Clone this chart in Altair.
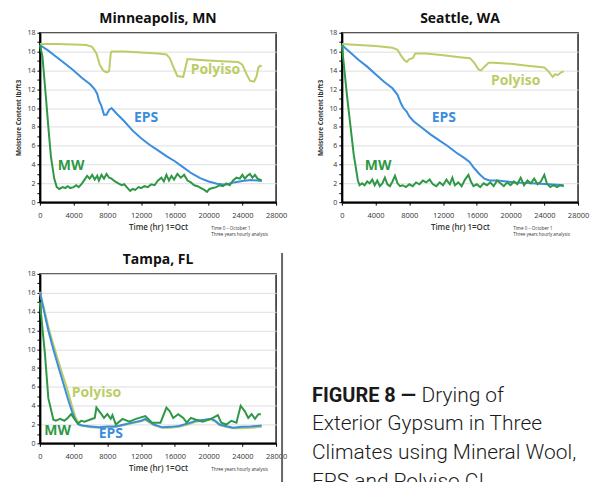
import altair as alt
import pandas as pd

# ---------------- data ----------------
# Minneapolis, MN
min_poly_t = [0, 2000, 4000, 5500, 6200, 6700, 7100, 7500, 7900, 8200, 8400, 8500, 10000, 12000, 14000, 15000, 15400, 15900, 16300, 17000, 17300, 17500, 19000, 21000, 23500, 24000, 24500, 24900, 25400, 25700, 25900, 26100, 26300]
min_poly_v = [16.8, 16.8, 16.75, 16.7, 16.5, 15.8, 14.6, 14.0, 13.8, 13.9, 15.8, 16.0, 16.0, 15.9, 15.8, 15.7, 15.3, 14.2, 13.4, 13.3, 14.5, 15.2, 15.1, 15.0, 14.9, 14.6, 13.6, 12.9, 12.8, 13.4, 14.3, 14.5, 14.4]
min_eps_t = [0, 1000, 2000, 3000, 4000, 5000, 6000, 6500, 6800, 7000, 7300, 7600, 7900, 8200, 8500, 9000, 10000, 11000, 12000, 13000, 14000, 15000, 16000, 17000, 18000, 19000, 20000, 21000, 22000, 23000, 24000, 25000, 25800, 26300]
min_eps_v = [16.7, 16.1, 15.4, 14.7, 14.0, 13.2, 12.5, 12.0, 11.5, 10.8, 10.2, 9.3, 9.3, 9.8, 10.0, 9.5, 8.6, 7.6, 6.8, 6.1, 5.5, 4.9, 4.35, 3.7, 3.05, 2.55, 2.2, 1.95, 1.85, 2.1, 2.25, 2.35, 2.3, 2.25]
min_mw_t = [0, 300, 700, 1000, 1300, 1700, 2000, 2300, 2700, 3000, 3300, 3600, 4000, 4300, 4600, 5000, 5300, 5600, 5900, 6200, 6500, 6800, 7000, 7300, 7600, 7900, 8200, 8500, 8900, 9300, 9700, 10000, 10400, 10700, 11000, 11300, 11700, 12000, 12400, 12800, 13200, 13600, 14000, 14400, 14700, 15000, 15300, 15600, 15900, 16300, 16700, 17100, 17500, 17900, 18300, 18700, 19100, 19500, 19800, 20100, 20500, 20900, 21300, 21700, 22100, 22500, 22900, 23300, 23700, 24000, 24300, 24600, 24900, 25200, 25500, 25800, 26100, 26300]
min_mw_v = [16.7, 15.5, 11.3, 8.0, 4.9, 2.5, 1.6, 1.4, 1.6, 1.5, 1.7, 1.5, 1.6, 1.8, 1.6, 2.0, 2.4, 2.8, 2.5, 2.9, 2.4, 2.8, 2.3, 2.9, 2.5, 3.0, 2.6, 2.5, 2.2, 2.0, 1.8, 1.9, 1.5, 1.2, 1.4, 1.3, 1.6, 1.5, 1.7, 1.6, 1.9, 1.8, 2.3, 2.6, 2.2, 2.9, 2.3, 2.8, 2.4, 3.0, 2.6, 2.9, 2.3, 2.1, 1.8, 1.7, 1.5, 1.3, 1.1, 1.4, 1.5, 1.6, 1.8, 1.7, 2.0, 1.8, 2.3, 2.6, 2.5, 2.9, 2.5, 2.8, 3.0, 2.6, 2.9, 2.5, 2.4, 2.3]

# Seattle, WA
sea_poly_t = [0, 2000, 4000, 6000, 6600, 7000, 7400, 7700, 8000, 8400, 8700, 10000, 12000, 14000, 15200, 15700, 16200, 16500, 16900, 17400, 18000, 20000, 22000, 24000, 24500, 25000, 25300, 25600, 26000, 26300]
sea_poly_v = [16.8, 16.7, 16.6, 16.4, 16.2, 15.6, 15.1, 14.9, 15.2, 15.3, 15.8, 15.8, 15.6, 15.4, 15.3, 14.8, 14.1, 14.0, 14.4, 14.8, 14.8, 14.7, 14.5, 14.3, 13.9, 13.3, 13.6, 13.5, 13.8, 13.9]
sea_eps_t = [0, 1000, 2000, 3000, 4000, 5000, 6000, 6600, 7000, 7300, 7700, 8000, 8500, 9500, 10500, 11500, 12500, 13500, 14500, 15100, 15700, 16300, 16900, 17500, 18500, 19500, 20500, 21500, 22500, 23500, 24500, 25500, 26300]
sea_eps_v = [16.7, 15.9, 15.1, 14.4, 13.6, 12.8, 12.1, 11.4, 10.5, 10.0, 9.6, 9.1, 8.6, 7.9, 7.2, 6.6, 6.0, 5.3, 4.7, 4.3, 3.6, 3.0, 2.5, 2.3, 2.3, 2.2, 2.1, 2.05, 2.0, 1.95, 1.9, 1.85, 1.8]
sea_mw_t = [0, 600, 1400, 1900, 2100, 2400, 2700, 3000, 3300, 3600, 3900, 4200, 4500, 4800, 5100, 5400, 5700, 6000, 6300, 6600, 6900, 7200, 7600, 8000, 8400, 8800, 9200, 9600, 10000, 10400, 10800, 11200, 11600, 12000, 12400, 12800, 13100, 13400, 13800, 14200, 14600, 15000, 15300, 15600, 16000, 16400, 16800, 17200, 17600, 18000, 18400, 18800, 19200, 19600, 20000, 20400, 20800, 21200, 21600, 22000, 22400, 22800, 23200, 23600, 24000, 24300, 24700, 25100, 25500, 25900, 26300]
sea_mw_v = [16.7, 11.4, 5.1, 2.3, 1.8, 2.0, 1.8, 2.2, 2.0, 2.4, 1.8, 2.3, 1.7, 2.0, 2.6, 1.9, 1.7, 2.2, 2.8, 2.0, 1.7, 1.8, 1.6, 1.9, 1.7, 2.1, 1.9, 2.3, 2.1, 2.4, 1.9, 1.7, 2.1, 1.8, 2.4, 1.9, 2.6, 1.8, 2.1, 1.7, 2.4, 2.9, 2.2, 1.7, 1.9, 1.6, 2.0, 1.8, 2.1, 1.7, 2.3, 2.0, 1.7, 2.1, 1.8, 2.2, 1.9, 2.6, 1.8, 2.3, 2.0, 2.5, 1.9, 2.2, 2.9, 2.0, 1.6, 1.8, 1.6, 1.8, 1.7]

# Tampa, FL
tam_poly_t = [0, 500, 1000, 1500, 2200, 2800, 3300, 3800, 4200, 4600, 5000, 6000, 7000, 8000, 9000, 10000, 11000, 12000, 12500, 13000, 13500, 14500, 15500, 16500, 17500, 18500, 19500, 20300, 20800, 21300, 22000, 22900, 24000, 25000, 25700, 26300]
tam_poly_v = [16.1, 14.3, 12.4, 10.8, 8.7, 7.0, 5.6, 4.0, 2.8, 2.1, 1.9, 1.7, 1.65, 1.7, 1.75, 1.95, 2.15, 2.35, 2.5, 2.2, 1.95, 1.65, 1.65, 1.75, 2.0, 2.3, 2.45, 2.55, 2.3, 1.95, 1.75, 1.6, 1.6, 1.65, 1.7, 1.75]
tam_eps_t = [0, 500, 1000, 1500, 2200, 2800, 3300, 3800, 4200, 4600, 5000, 6000, 7000, 8000, 9000, 10000, 11000, 12000, 12500, 13000, 13500, 14500, 15500, 16500, 17500, 18500, 19500, 20300, 20800, 21300, 22000, 22900, 24000, 25000, 25700, 26300]
tam_eps_v = [16.0, 14.0, 12.0, 10.3, 8.1, 6.3, 4.8, 3.4, 2.5, 2.0, 1.9, 1.8, 1.7, 1.8, 1.8, 2.0, 2.2, 2.4, 2.6, 2.3, 2.0, 1.7, 1.75, 1.85, 2.1, 2.4, 2.5, 2.6, 2.4, 2.0, 1.85, 1.65, 1.75, 1.8, 1.85, 1.9]
tam_mw_t = [0, 600, 1000, 1600, 1900, 2400, 2900, 3300, 3700, 4100, 4500, 4900, 5300, 5900, 6500, 6700, 7200, 7600, 8000, 8400, 8600, 9000, 9800, 10600, 11400, 12500, 13300, 14300, 15000, 15400, 15800, 16400, 17000, 17400, 17900, 18500, 19300, 20300, 21100, 21500, 22100, 22700, 23300, 23800, 24300, 24700, 25100, 25500, 25900, 26200]
tam_mw_v = [15.0, 9.5, 4.8, 2.5, 2.4, 2.6, 2.4, 2.7, 3.1, 2.6, 2.1, 2.4, 2.3, 2.5, 2.7, 3.8, 3.2, 2.7, 3.1, 2.6, 3.0, 2.0, 2.6, 2.3, 2.6, 2.9, 2.2, 2.2, 3.8, 3.4, 2.7, 3.1, 2.7, 2.2, 2.7, 2.5, 2.3, 2.6, 3.0, 2.2, 2.0, 2.4, 2.2, 4.0, 3.4, 2.7, 3.1, 2.6, 3.1, 3.1]

series_names = ["Polyiso", "EPS", "MW"]
series_colors = ["#bbcd66", "#3b8ede", "#2f9846"]

# in-plot series labels (data coordinates: hours, lb/ft3)
min_lab_t = [20800, 12600, 3700]
min_lab_v = [14.0, 8.9, 3.8]
sea_lab_t = [20600, 12100, 4300]
sea_lab_v = [12.9, 8.9, 3.8]
tam_lab_t = [6700, 8400, 2100]
tam_lab_v = [5.35, 1.0, 1.3]

x_ticks = [0, 4000, 8000, 12000, 16000, 20000, 24000, 28000]
y_ticks = list(range(0, 19))

caption_bold = "FIGURE 8 \u2014"
caption_first = "Drying of"
caption_lines = ["Exterior Gypsum in Three", "Climates using Mineral Wool,", "EPS and Polyiso CI"]

W, H = 237, 170
FONT = "Open Sans"

grid_cond = {"condition": {"test": "datum.value % 2 === 0 && datum.value > 0", "value": 1}, "value": 0}


def panel(title, pt, pv, et, ev, mt, mv, lab_t, lab_v, show_ytitle=True, notes=None):
    xaxis = alt.Axis(values=x_ticks, title="Time (hr) 1=Oct", format="d",
                     labelFontSize=7.5, titleFontSize=8, titleFontWeight=600,
                     labelColor="#333", titleColor="#333", titlePadding=5,
                     tickColor="#000", tickSize=3, labelPadding=6,
                     labelOverlap=False, labelFlush=False,
                     domainColor="#000", domainWidth=2, grid=False, labelFont=FONT, titleFont=FONT)
    yaxis = alt.Axis(values=y_ticks, labelExpr="datum.value % 2 === 0 ? datum.label : ''",
                     title="Moisture Content lb/ft3",
                     titleOpacity=1 if show_ytitle else 0,
                     labelFontSize=7, titleFontSize=6.5, titleFontWeight="bold",
                     labelColor="#333", titleColor="#333", titlePadding=5,
                     tickColor="#000", tickSize=3, labelPadding=2,
                     labelOverlap=False, labelFlush=False,
                     domainColor="#000", domainWidth=2,
                     grid=True, gridColor="#dedede", gridOpacity=grid_cond,
                     labelFont=FONT, titleFont=FONT)
    xs = alt.X("t:Q", scale=alt.Scale(domain=[0, 28000], nice=False), axis=xaxis)
    ys = alt.Y("v:Q", scale=alt.Scale(domain=[0, 18], nice=False), axis=yaxis)
    layers = []
    for name, col, tt, vv in zip(series_names, series_colors, [pt, et, mt], [pv, ev, mv]):
        df = pd.DataFrame({"t": tt, "v": vv})
        layers.append(alt.Chart(df).mark_line(color=col, strokeWidth=2).encode(x=xs, y=ys))
    lab = pd.DataFrame({"t": lab_t, "v": lab_v, "name": series_names})
    labels = alt.Chart(lab).mark_text(fontSize=14, fontWeight="bold", font=FONT, align="center", baseline="middle").encode(
        x=xs, y=ys, text="name:N",
        color=alt.Color("name:N", scale=alt.Scale(domain=series_names, range=series_colors), legend=None))
    layers.append(labels)
    if notes:
        for i, line in enumerate(notes):
            layers.append(alt.Chart(pd.DataFrame({"s": [line]})).mark_text(
                fontSize=4.5, font=FONT, align="left", baseline="middle", color="#333").encode(
                x=alt.value(172), y=alt.value(197 + 6 * i), text="s:N"))
    return alt.layer(*layers).properties(
        width=W, height=H,
        title=alt.TitleParams(title, fontSize=14, font=FONT, fontWeight="bold", color="#111", offset=3))


minn = panel("Minneapolis, MN", min_poly_t, min_poly_v, min_eps_t, min_eps_v, min_mw_t, min_mw_v,
             min_lab_t, min_lab_v, notes=["Time 0 \u2013 October 1", "Three years hourly analysis"])
sea = panel("Seattle, WA", sea_poly_t, sea_poly_v, sea_eps_t, sea_eps_v, sea_mw_t, sea_mw_v,
            sea_lab_t, sea_lab_v, notes=["Time 0 \u2013 October 1", "Three years hourly analysis"])
tam = panel("Tampa, FL", tam_poly_t, tam_poly_v, tam_eps_t, tam_eps_v, tam_mw_t, tam_mw_v,
            tam_lab_t, tam_lab_v, show_ytitle=False, notes=["Three years hourly analysis"])

# caption block (sits in the 4th grid cell; offsets are relative to that cell)
CF = "Roboto"
CS = 21
cap_layers = [
    alt.Chart(pd.DataFrame({"a": [0]})).mark_rule(color="#666", strokeWidth=2).encode(
        x=alt.value(-60), y=alt.value(-21), y2=alt.value(215)),
    alt.Chart(pd.DataFrame({"s": [caption_bold]})).mark_text(
        font=CF, fontSize=20, fontWeight="bold", align="left", baseline="alphabetic", color="#1a1a1a").encode(
        x=alt.value(-30), y=alt.value(129), text="s:N"),
    alt.Chart(pd.DataFrame({"s": [caption_first]})).mark_text(
        font=CF, fontSize=CS, fontWeight=300, align="left", baseline="alphabetic", color="#1a1a1a").encode(
        x=alt.value(80), y=alt.value(129), text="s:N"),
]
for i, line in enumerate(caption_lines):
    cap_layers.append(alt.Chart(pd.DataFrame({"s": [line]})).mark_text(
        font=CF, fontSize=CS, fontWeight=300, align="left", baseline="alphabetic", color="#1a1a1a").encode(
        x=alt.value(-30), y=alt.value(157 + 29 * i), text="s:N"))
caption = alt.layer(*cap_layers).properties(
    width=W, height=H, view=alt.ViewBackground(stroke="transparent"))

chart = alt.concat(minn, sea, tam, caption, columns=2,
                   spacing={"row": 72, "column": 66}, bounds="flush").properties(
    padding={"left": 7, "top": 2, "right": 0, "bottom": 0}
).configure_view(stroke="#222", strokeWidth=1.5).configure_axis(labelOverlap=False)

chart.save("out.html", embed_options={"renderer": "svg", "actions": False})
